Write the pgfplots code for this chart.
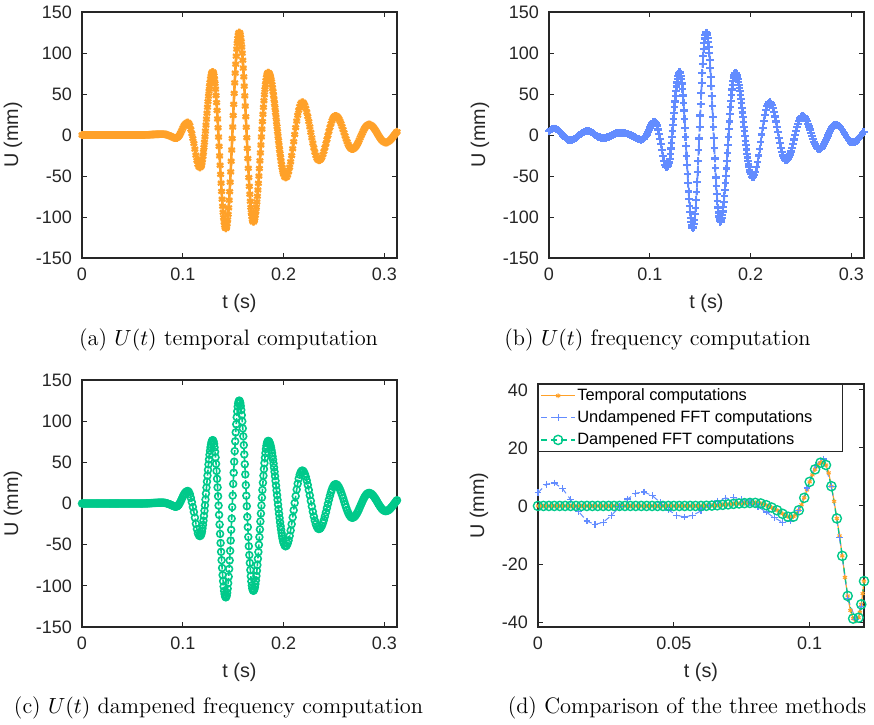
\documentclass[border=0pt]{standalone}
\usepackage{fontspec}
\newfontfamily\axfont{Liberation Sans}
\usepackage{pgfplots}
\usepackage{pgfplotstable}
\pgfplotsset{compat=1.18}
\definecolor{corange}{RGB}{255,161,41}
\definecolor{cblue}{RGB}{99,140,255}
\definecolor{cgreen}{RGB}{0,201,138}
\definecolor{axgray}{RGB}{38,38,38}

\pgfplotstableread{
t a b
0.000 0 4.5
0.001 0 5.7
0.002 0 6.8
0.003 0 7.5
0.004 0 7.9
0.005 0 8.0
0.006 0 7.9
0.007 0 7.5
0.008 0 6.8
0.009 0 6.0
0.010 0 4.9
0.011 0 3.6
0.012 0 2.2
0.013 0 0.8
0.014 0 -0.7
0.015 0 -2.0
0.016 0 -3.2
0.017 0 -4.3
0.018 0 -5.2
0.019 0 -5.8
0.020 0 -6.2
0.021 0 -6.4
0.022 0 -6.3
0.023 0 -6.0
0.024 0 -5.6
0.025 0 -5.0
0.026 0 -4.2
0.027 0 -3.3
0.028 0 -2.3
0.029 0 -1.3
0.030 0 -0.3
0.031 0 0.6
0.032 0 1.5
0.033 0 2.4
0.034 0 3.2
0.035 0 3.9
0.036 0 4.4
0.037 0 4.7
0.038 0 4.8
0.039 0 4.8
0.040 0 4.6
0.041 0 4.2
0.042 0 3.6
0.043 0 2.9
0.044 0 2.1
0.045 0 1.2
0.046 0 0.3
0.047 0 -0.6
0.048 0 -1.4
0.049 0 -2.1
0.050 0 -2.7
0.051 0 -3.2
0.052 0 -3.5
0.053 0 -3.7
0.054 0 -3.8
0.055 0 -3.7
0.056 0 -3.5
0.057 0 -3.2
0.058 0 -2.8
0.059 0 -2.3
0.060 0 -1.7
0.061 0.02 -1.1
0.062 0.05 -0.5
0.063 0.08 0.1
0.064 0.12 0.7
0.065 0.17 1.2
0.066 0.23 1.7
0.067 0.30 2.1
0.068 0.38 2.4
0.069 0.46 2.7
0.070 0.55 2.8
0.071 0.63 2.9
0.072 0.71 2.9
0.073 0.79 2.8
0.074 0.86 2.6
0.075 0.92 2.3
0.076 0.97 2.0
0.077 1.01 1.6
0.078 1.04 1.2
0.079 1.05 0.7
0.080 1.05 0.2
0.081 1.00 -0.3
0.082 0.85 -0.9
0.083 0.60 -1.5
0.084 0.25 -2.1
0.085 -0.15 -2.8
0.086 -0.55 -3.5
0.087 -1.00 -4.1
0.088 -1.50 -4.7
0.089 -2.10 -5.2
0.090 -2.70 -5.6
0.091 -3.30 -5.8
0.092 -3.70 -5.7
0.093 -3.90 -5.2
0.094 -3.70 -4.2
0.095 -2.90 -2.9
0.096 -1.50 -1.6
0.097 0.40 0.5
0.098 2.80 3.2
0.099 5.50 6.2
0.100 8.30 9.2
0.101 10.7 11.8
0.102 12.6 14.0
0.103 14.0 15.7
0.104 14.9 16.5
0.105 15.2 16.2
0.106 14.1 14.6
0.107 11.4 11.6
0.108 6.8 6.8
0.109 1.6 1.2
0.110 -4.3 -4.8
0.111 -10.3 -10.8
0.112 -17.2 -18.0
0.113 -24.6 -25.4
0.114 -31.0 -31.8
0.115 -36.0 -36.6
0.116 -38.8 -39.0
0.117 -39.6 -39.2
0.118 -38.5 -37.6
0.1185 -36.6 -36.0
0.1190 -33.9 -34.6
0.1195 -30.2 -32.5
0.1200 -25.9 -29.4
0.1205 -20.8 -23.0
0.1210 -15.1 -16.5
0.1215 -8.8 -9.5
0.1220 -2.2 -2.6
0.1225 4.8 4.8
0.1230 12.1 12.1
0.1235 19.4 19.4
0.1240 26.6 26.6
0.1245 33.9 33.9
0.1250 40.8 40.8
0.1255 47.4 47.4
0.1260 53.5 53.5
0.1265 59.1 59.1
0.1270 64.0 64.0
0.1275 68.3 68.3
0.1280 71.7 71.7
0.1285 74.4 74.4
0.1290 76.1 76.1
0.1295 76.9 76.9
0.1300 76.7 76.7
0.1305 75.2 75.2
0.1310 72.3 72.3
0.1315 68.1 68.1
0.1320 62.7 62.7
0.1325 56.0 56.0
0.1330 48.2 48.2
0.1335 39.5 39.5
0.1340 30.0 30.0
0.1345 19.6 19.6
0.1350 8.8 8.8
0.1355 -2.5 -2.5
0.1360 -13.8 -13.8
0.1365 -25.5 -25.5
0.1370 -36.9 -36.9
0.1375 -48.0 -48.0
0.1380 -58.7 -58.7
0.1385 -68.8 -68.8
0.1390 -78.3 -78.3
0.1395 -86.9 -86.9
0.1400 -94.3 -94.3
0.1405 -100.8 -100.8
0.1410 -106.1 -106.1
0.1415 -110.0 -110.0
0.1420 -112.7 -112.7
0.1425 -113.9 -113.9
0.1430 -113.7 -113.7
0.1435 -111.9 -111.9
0.1440 -108.4 -108.4
0.1445 -103.4 -103.4
0.1450 -96.8 -96.8
0.1455 -88.8 -88.8
0.1460 -79.5 -79.5
0.1465 -69.1 -69.1
0.1470 -57.5 -57.5
0.1475 -45.0 -45.0
0.1480 -32.0 -32.0
0.1485 -18.3 -18.3
0.1490 -4.3 -4.3
0.1495 9.7 9.7
0.1500 23.8 23.8
0.1505 37.4 37.4
0.1510 50.8 50.8
0.1515 63.6 63.6
0.1520 75.5 75.5
0.1525 86.4 86.4
0.1530 96.2 96.2
0.1535 104.8 104.8
0.1540 111.9 111.9
0.1545 117.6 117.6
0.1550 121.7 121.7
0.1555 124.2 124.2
0.1560 125.0 125.0
0.1565 124.3 124.3
0.1570 122.1 122.1
0.1575 118.5 118.5
0.1580 113.6 113.6
0.1585 107.3 107.3
0.1590 99.8 99.8
0.1595 91.2 91.2
0.1600 81.6 81.6
0.1605 70.9 70.9
0.1610 59.6 59.6
0.1615 47.7 47.7
0.1620 35.3 35.3
0.1625 22.3 22.3
0.1630 9.5 9.5
0.1635 -3.3 -3.3
0.1640 -16.3 -16.3
0.1645 -28.7 -28.7
0.1650 -40.6 -40.6
0.1655 -51.9 -51.9
0.1660 -62.6 -62.6
0.1665 -72.2 -72.2
0.1670 -80.8 -80.8
0.1675 -88.3 -88.3
0.1680 -94.6 -94.6
0.1685 -99.5 -99.5
0.1690 -103.1 -103.1
0.1695 -105.3 -105.3
0.1700 -106.0 -106.0
0.1705 -105.5 -105.5
0.1710 -103.9 -103.9
0.1715 -101.4 -101.4
0.1720 -97.8 -97.8
0.1725 -93.4 -93.4
0.1730 -88.0 -88.0
0.1735 -81.7 -81.7
0.1740 -74.7 -74.7
0.1745 -67.1 -67.1
0.1750 -58.9 -58.9
0.1755 -50.1 -50.1
0.1760 -40.8 -40.8
0.1765 -31.5 -31.5
0.1770 -21.8 -21.8
0.1775 -12.2 -12.2
0.1780 -2.4 -2.4
0.1785 7.2 7.2
0.1790 16.4 16.4
0.1795 25.3 25.3
0.1800 33.8 33.8
0.1805 41.8 41.8
0.1810 49.1 49.1
0.1815 55.5 55.5
0.1820 61.3 61.3
0.1825 66.2 66.2
0.1830 70.1 70.1
0.1835 73.0 73.0
0.1840 75.0 75.0
0.1845 75.9 75.9
0.1850 75.9 75.9
0.1855 75.4 75.4
0.1860 74.2 74.2
0.1865 72.6 72.6
0.1870 70.5 70.5
0.1875 67.9 67.9
0.1880 64.9 64.9
0.1885 61.4 61.4
0.1890 57.4 57.4
0.1895 53.2 53.2
0.1900 48.6 48.6
0.1905 43.7 43.7
0.1910 38.6 38.6
0.1915 33.2 33.2
0.1920 27.5 27.5
0.1925 21.8 21.8
0.1930 16.0 16.0
0.1935 10.2 10.2
0.1940 4.4 4.4
0.1945 -1.3 -1.3
0.1950 -6.9 -6.9
0.1955 -12.4 -12.4
0.1960 -17.6 -17.6
0.1965 -22.7 -22.7
0.1970 -27.4 -27.4
0.1975 -31.8 -31.8
0.1980 -35.9 -35.9
0.1985 -39.5 -39.5
0.1990 -42.7 -42.7
0.1995 -45.5 -45.5
0.2000 -47.8 -47.8
0.201 -51.0 -51.0
0.202 -52.0 -52.0
0.203 -51.2 -51.2
0.204 -48.7 -48.7
0.205 -44.7 -44.7
0.206 -39.3 -39.3
0.207 -32.7 -32.7
0.208 -25.1 -25.1
0.209 -16.8 -16.8
0.210 -8.2 -8.2
0.211 0.6 0.6
0.212 9.0 9.0
0.213 17.0 17.0
0.214 24.1 24.1
0.215 30.2 30.2
0.216 34.9 34.9
0.217 38.1 38.1
0.218 39.8 39.8
0.219 39.9 39.9
0.220 38.6 38.6
0.221 36.1 36.1
0.222 32.5 32.5
0.223 27.9 27.9
0.224 22.5 22.5
0.225 16.4 16.4
0.226 9.9 9.9
0.227 3.2 3.2
0.228 -3.5 -3.5
0.229 -9.9 -9.9
0.230 -15.7 -15.7
0.231 -20.8 -20.8
0.232 -25.1 -25.1
0.233 -28.2 -28.2
0.234 -30.3 -30.3
0.235 -31.0 -31.0
0.236 -30.6 -30.6
0.237 -29.2 -29.2
0.238 -27.0 -27.0
0.239 -23.8 -23.8
0.240 -20.0 -20.0
0.241 -15.5 -15.5
0.242 -10.7 -10.7
0.243 -5.5 -5.5
0.244 -0.4 -0.4
0.245 4.7 4.7
0.246 9.4 9.4
0.247 13.7 13.7
0.248 17.3 17.3
0.249 20.2 20.2
0.250 22.2 22.2
0.251 23.3 23.3
0.252 23.4 23.4
0.253 22.8 22.8
0.254 21.4 21.4
0.255 19.4 19.4
0.256 16.8 16.8
0.257 13.7 13.7
0.258 10.3 10.3
0.259 6.6 6.6
0.260 2.7 2.7
0.261 -1.1 -1.1
0.262 -4.8 -4.8
0.263 -8.2 -8.2
0.264 -11.2 -11.2
0.265 -13.7 -13.7
0.266 -15.5 -15.5
0.267 -16.8 -16.8
0.268 -17.3 -17.3
0.269 -17.1 -17.1
0.270 -16.4 -16.4
0.271 -15.2 -15.2
0.272 -13.5 -13.5
0.273 -11.4 -11.4
0.274 -9.0 -9.0
0.275 -6.3 -6.3
0.276 -3.5 -3.5
0.277 -0.7 -0.7
0.278 2.1 2.1
0.279 4.8 4.8
0.280 7.2 7.2
0.281 9.2 9.2
0.282 10.8 10.8
0.283 12.0 12.0
0.284 12.7 12.7
0.285 12.8 12.8
0.286 12.5 12.5
0.287 11.8 11.8
0.288 10.7 10.7
0.289 9.4 9.4
0.290 7.7 7.7
0.291 5.9 5.9
0.292 3.9 3.9
0.293 1.8 1.8
0.294 -0.3 -0.3
0.295 -2.3 -2.3
0.296 -4.1 -4.1
0.297 -5.8 -5.8
0.298 -7.1 -7.1
0.299 -8.2 -8.2
0.300 -8.9 -8.9
0.301 -9.2 -9.2
0.302 -9.1 -9.1
0.303 -8.8 -8.8
0.304 -8.1 -8.1
0.305 -7.2 -7.2
0.306 -6.0 -6.0
0.307 -4.6 -4.6
0.308 -3.1 -3.1
0.309 -1.5 -1.5
0.310 0.1 0.1
0.311 1.7 1.7
0.312 3.3 3.3
0.3125 4.0 4.0
}\data

\pgfplotsset{
  mstyle/.style={
    scale only axis, anchor=south west,
    axis line style={draw=axgray, line width=0.55pt},
    every tick/.append style={draw=axgray, line width=0.45pt},
    major tick length=2.4pt,
    tick align=inside,
    tick label style={font=\axfont\fontsize{9}{10}\selectfont, text=axgray},
    xticklabel style={yshift=-1.5pt},
    yticklabel style={xshift=-1.5pt},
    label style={font=\axfont\fontsize{9.9}{11}\selectfont, text=axgray},
    xlabel={t (s)}, ylabel={U (mm)},
    /pgf/number format/assume math mode=true,
  },
  bigwave/.style={
    mstyle, width=157.5pt, height=123pt,
    xmin=0, xmax=0.3125, ymin=-150, ymax=150,
    xtick={0,0.1,0.2,0.3}, xticklabels={0,0.1,0.2,0.3},
    ytick={-150,-100,-50,0,50,100,150},
    yticklabels={-150,-100,-50,0,50,100,150},
  },
}

\begin{document}
\begin{tikzpicture}
\useasboundingbox (0,0) rectangle (437pt,362pt);

% (a)
\begin{axis}[bigwave, at={(41pt,233pt)}]
\addplot[corange, line width=1.3pt, mark=asterisk, mark size=1.9pt,
  mark options={solid, line width=1.1pt}] table[x=t,y=a]{\data};
\end{axis}

% (b)
\begin{axis}[bigwave, at={(274.5pt,233pt)}]
\addplot[cblue, line width=0.9pt, dash pattern=on 3pt off 1pt, mark=+, mark size=1.9pt,
  mark options={solid, line width=1.1pt}] table[x=t,y=b]{\data};
\end{axis}

% (c)
\begin{axis}[bigwave, at={(41pt,48.5pt)}, height=123.5pt]
\addplot[cgreen, line width=0.8pt, dash pattern=on 3pt off 1pt, mark=o, mark size=1.7pt,
  mark options={solid, line width=0.8pt}] table[x=t,y=a]{\data};
\end{axis}

% (d)
\begin{axis}[mstyle, at={(269pt,48.5pt)}, width=163pt, height=121.5pt,
  xmin=0, xmax=0.12, ymin=-41.7, ymax=42,
  xtick={0,0.05,0.1}, xticklabels={0,0.05,0.1},
  ytick={-40,-20,0,20,40}, yticklabels={-40,-20,0,20,40},
  clip=false,
  legend cell align=left,
  legend image code/.code={\draw[mark repeat=2,mark phase=2]
    plot coordinates {(0pt,0pt) (8.5pt,0pt) (17pt,0pt)};},
  legend style={at={(0,1)}, anchor=north west, draw=axgray, line width=0.5pt,
    fill=white, text=black, font=\axfont\fontsize{8.2}{9.5}\selectfont,
    inner xsep=1pt, inner ysep=1.1pt, row sep=2pt, nodes={inner sep=0.8pt}},
]
\addplot[corange, line width=0.6pt, mark=asterisk, mark size=1.2pt,
  mark options={solid, line width=0.5pt}, restrict x to domain=0:0.1201]
  table[x=t,y=a]{\data};
\addlegendentry{Temporal computations}
\addplot[cblue, line width=0.5pt, dash pattern=on 3pt off 2pt, mark=+, mark size=1.7pt,
  mark options={solid, line width=0.6pt}, each nth point=3, restrict x to domain=0:0.1201]
  table[x=t,y=b]{\data};
\addlegendentry{Undampened FFT computations\hspace*{13pt}}
\addplot[cgreen, line width=0.6pt, dash pattern=on 3pt off 2pt, mark=o, mark size=2.3pt,
  mark options={solid, line width=0.7pt}, each nth point=2, restrict x to domain=0:0.1201]
  table[x=t,y=a]{\data};
\addlegendentry{Dampened FFT computations}
\end{axis}

\node[font=\fontsize{11.2}{13}\selectfont] at (114.25pt,192pt) {(a) $U(t)$ temporal computation};
\node[font=\fontsize{11.2}{13}\selectfont] at (328.75pt,192pt) {(b) $U(t)$ frequency computation};
\node[font=\fontsize{11.2}{13}\selectfont] at (109.25pt,8pt) {(c) $U(t)$ dampened frequency computation};
\node[font=\fontsize{11.2}{13}\selectfont] at (343.5pt,8pt) {(d) Comparison of the three methods};
\end{tikzpicture}
\end{document}
